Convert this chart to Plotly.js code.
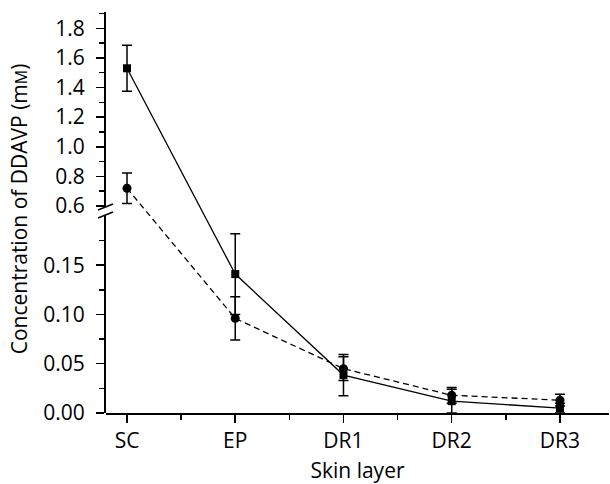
<!DOCTYPE html>
<html>
<head>
<meta charset="utf-8">
<script src="https://cdn.plot.ly/plotly-3.0.1.min.js"></script>
<style>html,body{margin:0;padding:0;background:#fff;}#chart{width:610px;height:484px;}</style>
</head>
<body>
<div id="chart"></div>
<script>
// ---- data ----
const layers = ["SC", "EP", "DR1", "DR2", "DR3"];
const squareMean = [1.53, 0.141, 0.0385, 0.012, 0.005];
const squareErr  = [0.155, 0.041, 0.021, 0.012, 0.005];
const circleMean = [0.72, 0.096, 0.045, 0.018, 0.013];
const circleErr  = [0.103, 0.022, 0.012, 0.008, 0.006];
const lowerTicks = [0, 0.05, 0.10, 0.15];
const lowerTickText = ["0.00", "0.05", "0.10", "0.15"];
const lowerMinor = [0.025, 0.075, 0.125, 0.175];
const upperTicks = [0.6, 0.8, 1.0, 1.2, 1.4, 1.6, 1.8];
const upperTickText = ["0.6", "0.8", "1.0", "1.2", "1.4", "1.6", "1.8"];
const upperMinor = [0.7, 0.9, 1.1, 1.3, 1.5, 1.7, 1.9];

// ---- broken-axis scale ----
const lowerRange = [0, 0.201];
const upperRange = [0.5932, 1.91];
const lowerDomain = [0, 0.4938];
const upperDomain = [0.5137, 1];
function brokenScale(v) {
  if (v <= lowerRange[1]) {
    return lowerDomain[0] + (lowerDomain[1] - lowerDomain[0]) * (v - lowerRange[0]) / (lowerRange[1] - lowerRange[0]);
  }
  return upperDomain[0] + (upperDomain[1] - upperDomain[0]) * (v - upperRange[0]) / (upperRange[1] - upperRange[0]);
}
const xIdx = layers.map((_, i) => i);
function seriesTrace(mean, err, symbol, size, dash) {
  const y = mean.map(brokenScale);
  return {
    x: xIdx, y: y, xaxis: 'x', yaxis: 'y', type: 'scatter', mode: 'lines+markers',
    line: {color: '#000', width: 1.3, dash: dash},
    marker: {symbol: symbol, size: size, color: '#000'},
    error_y: {
      type: 'data', symmetric: false,
      array: mean.map((m, i) => brokenScale(m + err[i]) - brokenScale(m)),
      arrayminus: mean.map((m, i) => brokenScale(m) - brokenScale(m - err[i])),
      color: '#000', thickness: 1.5, width: 5
    },
    hoverinfo: 'skip', showlegend: false, cliponaxis: false
  };
}
const font = {family: '"Open Sans", "Noto Sans", sans-serif', size: 21, color: '#000'};
const traces = [
  {x: [], y: [], xaxis: 'x', yaxis: 'y2', type: 'scatter', showlegend: false, hoverinfo: 'skip'},
  {x: [], y: [], xaxis: 'x', yaxis: 'y3', type: 'scatter', showlegend: false, hoverinfo: 'skip'},
  seriesTrace(circleMean, circleErr, 'circle', 9, '6px,4px'),
  seriesTrace(squareMean, squareErr, 'square', 8, 'solid')
];
const yCommon = {
  anchor: 'x', showline: true, linewidth: 2, linecolor: '#000', ticks: 'outside', ticklen: 8,
  tickwidth: 1.5, tickcolor: '#000', showgrid: false, zeroline: false, tickmode: 'array',
  tickfont: font, fixedrange: true, ticklabelstandoff: 7
};
const layout = {
  width: 610, height: 484, paper_bgcolor: '#fff', plot_bgcolor: 'rgba(0,0,0,0)',
  margin: {l: 106, r: 1, t: 12, b: 71}, font: font, showlegend: false,
  xaxis: {
    anchor: 'y', range: [-0.194, 4.453], tickmode: 'array', tickvals: xIdx, ticktext: layers,
    showline: true, linewidth: 2, linecolor: '#000', ticks: 'outside', ticklen: 8, tickwidth: 1.5,
    tickcolor: '#000', showgrid: false, zeroline: false, tickfont: font,
    minor: {tickmode: 'array', tickvals: [0.5, 1.5, 2.5, 3.5], ticks: 'outside', ticklen: 5, tickwidth: 1.5, tickcolor: '#000', showgrid: false},
    title: {text: 'Skin layer', font: font, standoff: 19}
  },
  yaxis: {domain: [0, 1], range: [0, 1], visible: false, fixedrange: true},
  yaxis2: Object.assign({}, yCommon, {
    domain: lowerDomain, range: lowerRange, tickvals: lowerTicks, ticktext: lowerTickText,
    minor: {tickmode: 'array', tickvals: lowerMinor, ticks: 'outside', ticklen: 5, tickwidth: 1.5, tickcolor: '#000', showgrid: false}
  }),
  yaxis3: Object.assign({}, yCommon, {
    domain: upperDomain, range: upperRange, tickvals: upperTicks, ticktext: upperTickText,
    minor: {tickmode: 'array', tickvals: upperMinor, ticks: 'outside', ticklen: 5, tickwidth: 1.5, tickcolor: '#000', showgrid: false}
  }),
  shapes: [
    {type: 'line', xref: 'paper', yref: 'paper', xsizemode: 'pixel', ysizemode: 'pixel',
     xanchor: 0, yanchor: upperDomain[0], x0: -8, x1: 7, y0: -3, y1: 3, line: {color: '#000', width: 1.5}},
    {type: 'line', xref: 'paper', yref: 'paper', xsizemode: 'pixel', ysizemode: 'pixel',
     xanchor: 0, yanchor: lowerDomain[1], x0: -8, x1: 7, y0: -3, y1: 3, line: {color: '#000', width: 1.5}}
  ],
  annotations: [
    {text: 'Concentration of DDAVP (m<span style="font-size:16px">M</span>)', xref: 'paper', yref: 'paper',
     x: -0.1713, y: 0.51, xanchor: 'center', yanchor: 'middle', textangle: -90, showarrow: false, font: font}
  ]
};
Plotly.newPlot('chart', traces, layout, {staticPlot: true, displayModeBar: false});
</script>
</body>
</html>
